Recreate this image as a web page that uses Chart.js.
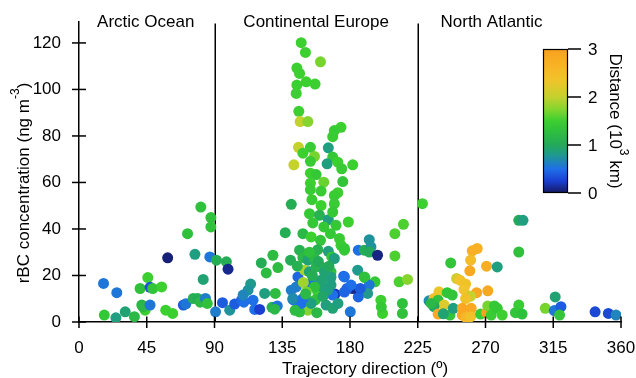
<!DOCTYPE html>
<html>
<head>
<meta charset="utf-8">
<script src="https://cdn.jsdelivr.net/npm/chart.js@4.4.1/dist/chart.umd.min.js"></script>
<style>
html,body{margin:0;padding:0;background:#fff;}
canvas{display:block;}
</style>
</head>
<body>
<canvas id="c" width="636" height="378"></canvas>
<script>
// ---- data ----
const directionDeg = [
16.3,25.1,16.8,24.5,30.7,36.8,40.6,45.7,47.2,49,54.9,41.7,43.9,42.5,47.2,57.6,62.2,58.9,69.3,71,
72.1,77,80.9,87.6,87.6,86.9,82.5,75.9,78.8,80.5,84,85.2,90.7,91.3,97.9,99,95.3,100.1,
103.4,107.9,109.5,114,112.3,109,115.6,116.7,120,123.3,121.1,124.4,128.8,132.1,130.4,128.2,131.7,130,
137,141,140.5,145.4,144.3,142.7,145.8,146.5,148.7,154.2,
147.6,150.4,160.4,144.7,146.5,150.9,156.8,144.7,144.3,146,146.9,152,174,169.6,168.5,145.8,153.7,165.6,
148.7,156.4,168.5,142.7,153.7,164.8,171.9,181.8,174.5,153.7,157.5,175.2,153.7,162.6,153.7,160.8,171.9,
169.6,154.7,160.8,169.6,153.1,159.7,165.6,168.5,155.3,162.6,170.7,178.9,167,173,174,176.3,160.4,158.6,
165.6,167.9,169.6,146.5,148.7,152,156.4,160.8,149.8,153,167.4,167,175.8,185.1,185.5,189.5,192.8,193.9,
192.8,198.3,209.8,215.5,209.8,212.6,218.2,189.9,196.6,192.8,191.7,185.5,181.8,186.8,178,180.7,170.1,
176.3,180.2,200.5,201.6,200.8,214.8,214.8,154.2,158.6,162,167.4,168.5,142.1,145.4,150,153.7,157,164.1,
168.5,152,146.5,176.3,189.5,147.6,154.2,165.2,167.4,176.3,141,142.1,148.7,157.5,163,160.8,156.4,149,151,
155,159,162,150.5,145,153,166,172,158,143.5,
228.1,292.1,294.9,292.1,264.5,261.2,260.1,246.9,270.7,277.8,259.6,250.8,253,256.8,255.7,264.1,271.5,
260.1,256.8,239.1,244.6,247.9,232.5,235.8,238.5,242.5,235.8,238.5,246.4,248.6,254.6,254.6,257,260.5,
260.1,266.7,270.7,271.5,275.9,273.8,277.8,281.1,289.9,292.1,294.3,309.7,316.3,315.7,320.1,319.2,342.8,
351.6,356.7,242,234
];
const rbcConc = [
16.6,12.6,3.0,1.8,4.4,2.3,14.4,19.1,14.9,14.4,15.1,7.3,5.1,6.5,7.3,5.1,3.7,27.6,7.3,7.8,
38,29.1,49.4,44.9,40.9,28,18.3,10.1,10.1,8.5,10.1,8,4.4,26.6,25.9,22.7,8.3,5.1,
7.7,9.4,8.5,16.3,13.7,11.6,9.4,5.4,5.4,12.3,25.4,21.1,28.7,23.4,12.3,6.3,6.9,5.5,
38.4,50.6,26.6,19.4,15.1,9.4,7.3,4.4,38,36.6,
120.1,115.9,111.9,109.2,106.9,103.3,102.3,101.9,98.3,90.6,86.2,86.2,83.7,82.3,79.7,75.1,75.1,74.9,
72.6,71.2,70.9,67.6,69.1,68,68.7,67.6,65.9,64,63.4,60.4,59.7,60.1,56.9,56.3,55.6,
54.4,52.6,50.1,50.9,46.6,45.9,44,47.3,42.6,40.9,41.6,43,38,35.9,33,30.9,35.1,31.1,
30.4,28,27.3,30.9,27.7,26.6,27.3,23.7,22.3,21.6,21.6,18.7,19.7,22.3,30.9,30.9,35.4,32.3,
30.1,28.7,38,42,28.4,17.3,18.3,19.1,17.3,15.9,12.3,10.8,14.4,14.4,14.4,15.9,12,
12.9,4.4,9.4,3.7,6.5,8,3.7,16.6,12.9,15,15.9,11.6,9.7,8,9.5,8.7,9.5,7.3,
5.9,5.1,4.4,19.4,19.4,8,8,13.7,19.4,31.6,13.7,10.1,10.1,23.7,21.6,18,15.1,17,13,
20,26,11,12,24,30,24,8,4,5,
50.9,43.7,43.7,30.1,31.6,30.6,26.6,25.4,24,23.7,22,18.7,18,16.3,14,12.6,13.4,
11.1,10.1,13,12.6,11.6,9.1,10.1,9.4,7.3,6.6,3.4,3,5.9,5.9,3,2,5.9,
2.3,3.4,4,6.9,6.9,3,5.9,3,4,7.3,3.4,5.9,10.8,4.9,6.6,3,4.4,
3.7,3,3.5,8
];
const distanceKkm = [
0.55,0.55,1.4,0.85,0.9,1.2,1.3,1.5,0.35,1.35,1.5,1.15,1.5,1.2,0.55,1.5,1.5,0.05,0.4,0.55,
1.3,0.85,1.3,1.3,1.3,0.55,0.9,1.1,1.05,1.2,0.6,1.3,0.6,1.05,1.05,0.1,0.4,0.75,
0.4,0.45,0.5,0.8,0.75,0.65,0.5,0.5,0.25,0.85,1.05,1.25,1.25,1.25,1.25,1.1,0.55,1.2,
1.05,1.05,1.05,0.45,0.6,0.65,0.5,1.2,1.2,1.5,
1.5,1.5,1.7,1.5,1.5,1.5,1.5,1.5,1.5,1.5,2.0,1.75,1.5,1.45,1.45,2.0,1.45,0.85,
1.5,1.7,1.4,2.0,1.45,0.85,1.5,1.5,1.45,1.5,1.4,1.35,1.5,1.65,1.45,1.45,1.5,
1.45,1.45,1.5,1.45,1.4,1.1,0.85,1.4,1.4,1.4,1.4,1.5,1.4,1.45,1.45,1.4,1.35,1.1,
0.85,1.35,0.85,1.1,1.2,0.9,1.2,1.1,1.9,0.9,1.3,0.85,0.45,0.8,0.5,1.05,0.75,0.75,
1.0,0.08,1.55,1.55,1.55,1.55,1.75,1.4,1.4,0.55,0.8,0.45,0.1,0.4,0.45,0.5,0.2,
0.45,0.55,1.5,1.5,1.4,1.3,1.3,0.5,1.5,0.9,0.85,0.5,0.5,0.5,0.5,0.8,1.3,0.85,
0.9,1.75,1.3,0.5,1.3,0.5,0.85,0.85,0.85,1.4,0.6,0.7,0.5,1.1,0.9,0.9,1.3,1.85,1.7,
1.05,1.0,0.95,1.2,1.1,1.3,1.0,0.85,1.2,1.25,
1.5,1.0,0.85,1.3,2.7,2.7,2.5,1.35,2.75,0.85,2.85,2.1,2.35,2.4,2.35,2.85,2.85,
2.0,2.4,2.3,1.35,1.35,0.7,2.4,1.3,2.2,0.95,2.85,1.35,0.85,2.85,2.85,2.6,2.85,
2.4,1.45,2.95,1.7,1.4,1.45,1.4,1.5,1.35,1.45,1.3,1.7,0.9,0.55,0.4,1.35,0.3,
0.3,0.65,0.9,1.2
];
const xTicks = [0,45,90,135,180,225,270,315,360];
const yTicks = [0,20,40,60,80,100,120];
const cbarTicks = [0,1,2,3];
const regionNames = ['Arctic Ocean','Continental Europe','North Atlantic'];
const regionBounds = [90,225];

// ---- colormap ----
const cmap = [
 [0,'#141860'],[0.25,'#1a3fd0'],[0.5,'#1f6fe8'],[0.8,'#1f9a8c'],[1.0,'#23a95a'],
 [1.3,'#2fc03c'],[1.5,'#3ccf30'],[1.75,'#86d52e'],[2.0,'#c4d12e'],[2.35,'#f0c42a'],
 [2.65,'#f8b325'],[3.0,'#f8a01e']
];
function hex2rgb(h){return [parseInt(h.slice(1,3),16),parseInt(h.slice(3,5),16),parseInt(h.slice(5,7),16)];}
function colorFor(v){
  if(v<=cmap[0][0]) return cmap[0][1];
  for(let i=1;i<cmap.length;i++){
    if(v<=cmap[i][0]){
      const t=(v-cmap[i-1][0])/(cmap[i][0]-cmap[i-1][0]);
      const a=hex2rgb(cmap[i-1][1]), b=hex2rgb(cmap[i][1]);
      return 'rgb('+a.map((c,k)=>Math.round(c+(b[k]-c)*t)).join(',')+')';
    }
  }
  return cmap[cmap.length-1][1];
}

const points = directionDeg.map((x,i)=>({x:x,y:rbcConc[i]}));
const colors = distanceKkm.map(colorFor);

const FONT = '"Liberation Sans", Arial, sans-serif';

const overlay = {
  id:'overlay',
  beforeDatasetsDraw(chart){
    const ctx=chart.ctx, xs=chart.scales.x, a=chart.chartArea;
    ctx.save();
    ctx.strokeStyle='#000'; ctx.lineWidth=1.5;
    regionBounds.forEach(v=>{
      const px=Math.round(xs.getPixelForValue(v))+0.25;
      ctx.beginPath(); ctx.moveTo(px,a.top+1.5); ctx.lineTo(px,a.bottom); ctx.stroke();
    });
    ctx.restore();
  },
  afterDraw(chart){
    const ctx=chart.ctx, xs=chart.scales.x, ys=chart.scales.y, a=chart.chartArea;
    ctx.save();
    ctx.strokeStyle='#000'; ctx.lineWidth=1.5;
    xTicks.forEach(v=>{
      const px=xs.getPixelForValue(v);
      ctx.beginPath(); ctx.moveTo(px,a.bottom-5.5); ctx.lineTo(px,a.bottom+6); ctx.stroke();
    });
    yTicks.forEach(v=>{
      const py=ys.getPixelForValue(v);
      ctx.beginPath(); ctx.moveTo(a.left-7,py); ctx.lineTo(a.left+7,py); ctx.stroke();
    });
    // region labels
    ctx.fillStyle='#000';
    ctx.font='17px '+FONT;
    ctx.textAlign='center'; ctx.textBaseline='alphabetic';
    const centers=[44.3,157.5,274];
    regionNames.forEach((n,i)=>ctx.fillText(n, xs.getPixelForValue(centers[i]), 27));
    // x title
    ctx.fillText('Trajectory direction (\u00ba)', 365, 374);
    // y title (rotated ccw)
    ctx.save();
    ctx.translate(29,183);
    ctx.rotate(-Math.PI/2);
    const t1='rBC concentration (ng m', sup='-3', t2=')';
    ctx.font='17px '+FONT;
    const w1=ctx.measureText(t1).width, w3=ctx.measureText(t2).width;
    ctx.font='12px '+FONT;
    const w2=ctx.measureText(sup).width;
    const tot=w1+w2+w3;
    let x0=-tot/2;
    ctx.textAlign='left';
    ctx.font='17px '+FONT; ctx.fillText(t1,x0,0);
    ctx.font='12px '+FONT; ctx.fillText(sup,x0+w1,-10);
    ctx.font='17px '+FONT; ctx.fillText(t2,x0+w1+w2,0);
    ctx.restore();
    // colorbar
    const cbL=543, cbR=568, cbT=49, cbB=193;
    const g=ctx.createLinearGradient(0,cbB,0,cbT);
    cmap.forEach(s=>g.addColorStop(s[0]/3,s[1]));
    ctx.fillStyle=g;
    ctx.fillRect(cbL,cbT,cbR-cbL,cbB-cbT);
    ctx.strokeStyle='#000'; ctx.lineWidth=1.2;
    ctx.strokeRect(cbL+0.5,cbT+0.5,cbR-cbL-1,cbB-cbT-1);
    ctx.lineWidth=1.5;
    ctx.fillStyle='#000'; ctx.font='17px '+FONT;
    ctx.textAlign='left'; ctx.textBaseline='middle';
    cbarTicks.forEach(v=>{
      const py=cbB-(cbB-cbT)*v/3;
      ctx.beginPath(); ctx.moveTo(cbR,py); ctx.lineTo(cbR+13,py); ctx.stroke();
      ctx.fillText(String(v), cbR+20, py+1);
    });
    // colorbar title (rotated cw)
    ctx.save();
    ctx.translate(610,121);
    ctx.rotate(Math.PI/2);
    const c1='Distance (10', csup='3', c2=' km)';
    ctx.textBaseline='alphabetic';
    ctx.font='17px '+FONT;
    const q1=ctx.measureText(c1).width, q3=ctx.measureText(c2).width;
    ctx.font='12px '+FONT;
    const q2=ctx.measureText(csup).width;
    const ct=q1+q2+q3; let cx=-ct/2;
    ctx.font='17px '+FONT; ctx.fillText(c1,cx,0);
    ctx.font='12px '+FONT; ctx.fillText(csup,cx+q1,-10);
    ctx.font='17px '+FONT; ctx.fillText(c2,cx+q1+q2,0);
    ctx.restore();
    ctx.restore();
  }
};

new Chart(document.getElementById('c'),{
  type:'scatter',
  data:{datasets:[{
    data:points,
    pointBackgroundColor:colors,
    pointBorderWidth:0,
    pointBorderColor:'rgba(0,0,0,0)',
    pointRadius:5.5,
    pointHoverRadius:5.5
  }]},
  options:{
    responsive:false,
    animation:false,
    devicePixelRatio:1,
    events:[],
    layout:{padding:{left:0,top:22,right:15,bottom:0}},
    plugins:{legend:{display:false},tooltip:{enabled:false}},
    scales:{
      x:{
        type:'linear',min:0,max:360,
        grid:{display:false},
        border:{display:true,color:'#000',width:1.5},
        afterBuildTicks:s=>{s.ticks=xTicks.map(v=>({value:v}));},
        ticks:{font:{family:FONT,size:17},color:'#000',padding:8,maxRotation:0,autoSkip:false},
        afterFit:s=>{s.height=56; s.paddingLeft=0; s.paddingRight=0;}
      },
      y:{
        type:'linear',min:0,max:129,
        grid:{display:false},
        border:{display:true,color:'#000',width:1.5},
        afterBuildTicks:s=>{s.ticks=yTicks.map(v=>({value:v}));},
        ticks:{font:{family:FONT,size:17},color:'#000',padding:10},
        afterFit:s=>{s.width=79; s.paddingTop=0; s.paddingBottom=0;}
      }
    }
  },
  plugins:[overlay]
});
</script>
</body>
</html>
